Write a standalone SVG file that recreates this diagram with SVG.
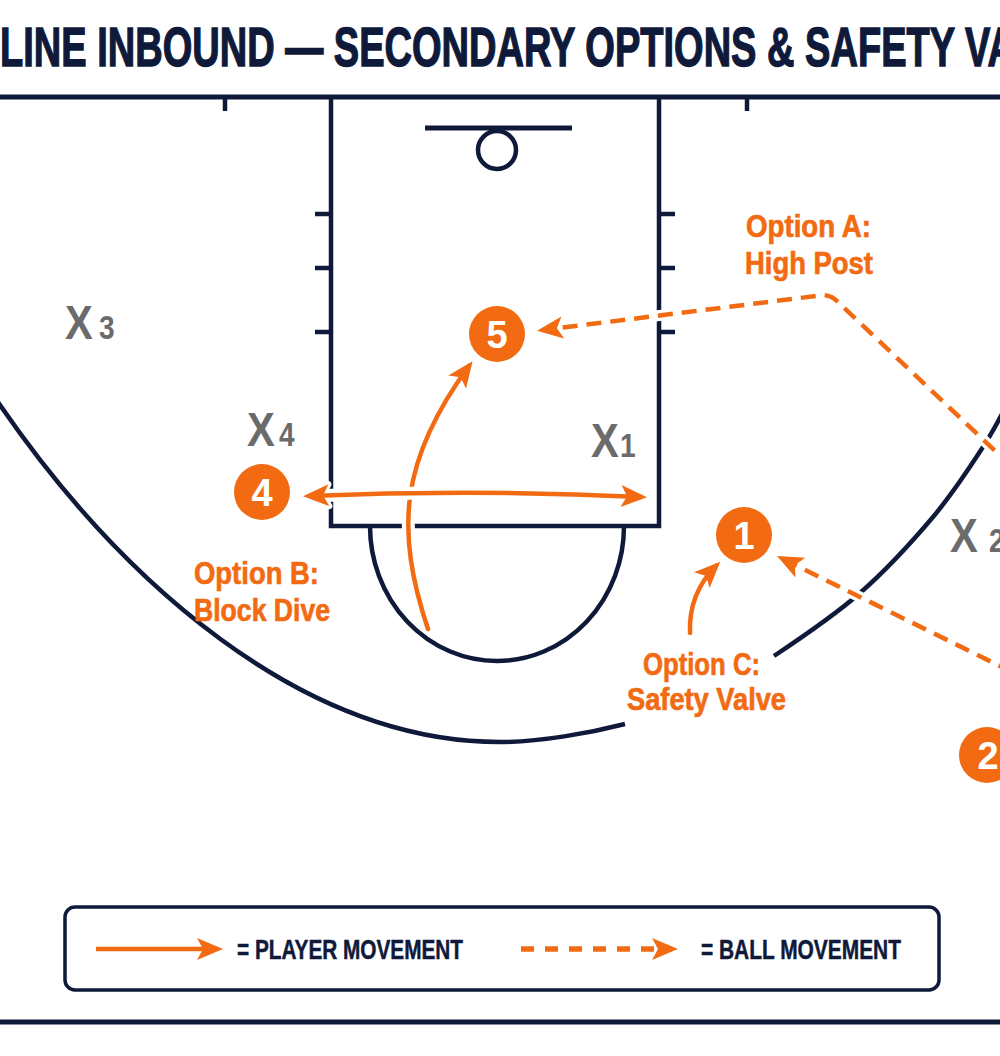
<svg xmlns="http://www.w3.org/2000/svg" width="1000" height="1056" viewBox="0 0 1000 1056">
<defs>
<style>
.ln{fill:none;stroke:#0f1a3b;stroke-width:4.5;stroke-linecap:butt}
.pl{fill:none;stroke:#f26b12;stroke-width:4.5;stroke-linecap:round}
.bl{fill:none;stroke:#f26b12;stroke-width:4.5;stroke-dasharray:15 9}
.halo{fill:none;stroke:#ffffff;stroke-width:13}
.pc{fill:#f26b12}
.pn{font-family:"Liberation Sans Narrow","Liberation Sans",Arial,sans-serif;font-weight:700;font-size:38px;fill:#ffffff;text-anchor:middle}
.xl{font-family:"Liberation Sans",Arial,sans-serif;font-weight:700;font-size:49px;fill:#6b6b6b}
.xs{font-size:33px}
.opt{font-family:"Liberation Sans Narrow","Liberation Sans",Arial,sans-serif;font-weight:700;font-size:32px;fill:#f26b12;stroke:#f26b12;stroke-width:0.7;text-anchor:middle}
.title{font-family:"Liberation Sans Narrow","Liberation Sans",Arial,sans-serif;font-weight:700;font-size:56px;fill:#0f1a3b;stroke:#0f1a3b;stroke-width:1.4}
.lg{font-family:"Liberation Sans Narrow","Liberation Sans",Arial,sans-serif;font-weight:700;font-size:27px;fill:#0f1a3b;stroke:#0f1a3b;stroke-width:0.5}
</style>
<marker id="ah" markerUnits="userSpaceOnUse" markerWidth="28" markerHeight="26" viewBox="0 0 28 26" refX="20" refY="13" orient="auto-start-reverse"><path d="M0,2 L26,13 L0,24 L6,13 Z" fill="#f26b12"/></marker>
<marker id="ahh" markerUnits="userSpaceOnUse" markerWidth="40" markerHeight="38" viewBox="-6 -6 40 38" refX="20" refY="13" orient="auto-start-reverse"><path d="M0,2 L26,13 L0,24 L6,13 Z" fill="#ffffff" stroke="#ffffff" stroke-width="6" stroke-linejoin="round"/></marker>
</defs>
<rect width="1000" height="1056" fill="#ffffff"/>
<g id="title">
<text class="title" x="0" y="66" textLength="1015" lengthAdjust="spacingAndGlyphs">LINE INBOUND — SECONDARY OPTIONS &amp; SAFETY VA</text>
</g>
<g id="court">
<line class="ln" x1="0" y1="97" x2="1000" y2="97" style="stroke-width:5"/>
<line class="ln" x1="225" y1="97" x2="225" y2="111"/>
<line class="ln" x1="747" y1="97" x2="747" y2="111"/>
<path class="ln" d="M331,97 V526 H659 V97"/>
<path class="ln" d="M315,214 H331 M315,268 H331 M315,332 H331 M659,214 H675 M659,268 H675 M659,332 H675"/>
<line class="ln" x1="425" y1="128" x2="572" y2="128" style="stroke-width:5"/>
<circle class="ln" cx="497" cy="150" r="19"/>
<path class="ln" d="M370,526 A127,135 0 0 0 624,526"/>
<path class="ln" d="M-20,376 L0,405 C120,579 300,742 500,742 C540,742 590,733 625,724"/>
<path class="ln" d="M774,656 C800.7,638.2 833.5,616.2 860,593 C886.5,569.8 912.5,541.3 933,517 C953.5,492.7 969.8,467.3 983,447 C996.2,426.7 1004.2,409.5 1012,395"/>
<line class="ln" x1="0" y1="1022" x2="1000" y2="1022" style="stroke-width:5"/>
</g>
<g id="connectors">
<path class="halo" d="M428,629 C395,530 400,460 469,366" marker-end="url(#ahh)"/>
<path class="pl" d="M428,629 C395,530 400,460 469,366" marker-end="url(#ah)"/>
<path class="halo" d="M309,496 Q475,489 641,497" marker-start="url(#ahh)" marker-end="url(#ahh)"/>
<path class="pl" d="M309,496 Q475,489 641,497" marker-start="url(#ah)" marker-end="url(#ah)"/>
<path class="halo" d="M690,633 C689,608 697,585 716,566" marker-end="url(#ahh)"/>
<path class="pl" d="M690,633 C689,608 697,585 716,566" marker-end="url(#ah)"/>
<path class="halo" style="stroke-width:11" d="M1012,467 L838,302 Q830,294 820,295.5 L543,330"/>
<path class="bl" d="M1012,467 L838,302 Q830,294 820,295.5 L543,330" marker-end="url(#ah)"/>
<path class="halo" style="stroke-width:11" d="M1012,672 L782.4,558.7"/>
<path class="bl" d="M1012,672 L782.4,558.7" marker-end="url(#ah)"/>
</g>
<g id="x3"><text class="xl" transform="translate(65 339) scale(0.85 1)">X<tspan class="xs" x="40">3</tspan></text></g>
<g id="x4"><text class="xl" transform="translate(247 446) scale(0.85 1)">X<tspan class="xs" x="37.6">4</tspan></text></g>
<g id="x1"><text class="xl" transform="translate(591 457) scale(0.85 1)">X<tspan class="xs" x="34">1</tspan></text></g>
<g id="x2"><text class="xl" transform="translate(950 552) scale(0.85 1)">X<tspan class="xs" x="46">2</tspan></text></g>
<g id="p5"><circle class="pc" cx="497" cy="334" r="28"/><text class="pn" x="497" y="347.5">5</text></g>
<g id="p4"><circle class="pc" cx="262" cy="492" r="28"/><text class="pn" x="262" y="505.5">4</text></g>
<g id="p1"><circle class="pc" cx="744" cy="535" r="28"/><text class="pn" x="744" y="548.5">1</text></g>
<g id="p2"><circle class="pc" cx="987" cy="755" r="28"/><text class="pn" x="988" y="768.5">2</text></g>
<g id="optA">
<text class="opt" x="808.5" y="237" textLength="125" lengthAdjust="spacingAndGlyphs">Option A:</text>
<text class="opt" x="809" y="274" textLength="128" lengthAdjust="spacingAndGlyphs">High Post</text>
</g>
<g id="optB">
<text class="opt" x="256.5" y="584" textLength="125" lengthAdjust="spacingAndGlyphs">Option B:</text>
<text class="opt" x="262" y="621" textLength="136" lengthAdjust="spacingAndGlyphs">Block Dive</text>
</g>
<g id="optC">
<text class="opt" x="701.5" y="675" textLength="117" lengthAdjust="spacingAndGlyphs">Option C:</text>
<text class="opt" x="706.5" y="710" textLength="159" lengthAdjust="spacingAndGlyphs">Safety Valve</text>
</g>
<g id="legend">
<rect x="65" y="907" width="874" height="83" rx="10" fill="#ffffff" stroke="#0f1a3b" stroke-width="3.5"/>
<path class="pl" style="stroke-linecap:butt" d="M96,949 H217" marker-end="url(#ah)"/>
<text class="lg" x="237" y="959" textLength="226" lengthAdjust="spacingAndGlyphs">=  PLAYER MOVEMENT</text>
<path class="bl" style="stroke-width:5.5;stroke-dasharray:13 11" d="M521,949 H672" marker-end="url(#ah)"/>
<text class="lg" x="701" y="959" textLength="200" lengthAdjust="spacingAndGlyphs">=  BALL MOVEMENT</text>
</g>
</svg>
